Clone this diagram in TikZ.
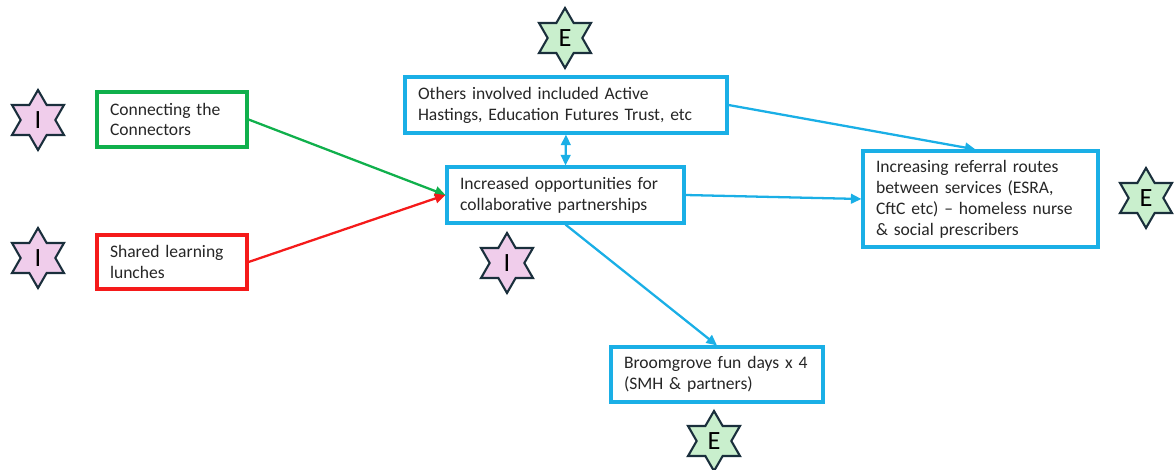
\documentclass[tikz,border=0pt]{standalone}
\usepackage{fontspec}
\setmainfont{Carlito}[WordSpace=0.85]
\usepackage{tikz}
\usetikzlibrary{positioning, arrows.meta, shapes.geometric}
\usepackage{xcolor}

\definecolor{boxblue}{HTML}{1AAFE6}
\definecolor{boxgreen}{HTML}{10B04C}
\definecolor{boxred}{HTML}{F51A1A}
\definecolor{starpink}{HTML}{F0CDEB}
\definecolor{stargreen}{HTML}{C9EFCD}
\definecolor{starline}{HTML}{1A2F3C}

\begin{document}
\begin{tikzpicture}[
                    % one unit = one pixel of the 1174 x 470 sheet, y going down
                    x=0.02cm, y=-0.02cm,
                    every path/.style={line width=1.3pt},
                    % Default style for nodes
                    every node/.style={color=black!85, font=\fontsize{10}{11.9}\selectfont}
                  ]
                  % --- Define styles for boxes, stars and arrows ---
                  \tikzstyle{textbox}=[draw, line width=1.8pt, align=left, inner xsep=0.26cm, inner ysep=0pt, anchor=center]
                  \tikzstyle{starbox}=[star, star points=6, star point ratio=1.73, draw=starline, line width=1.2pt,
                                       minimum size=1.2cm, inner sep=0pt, text=black, font=\fontsize{15}{15}\selectfont]
                  \tikzstyle{link}=[-{Triangle[length=6pt, width=5.5pt]}]

                  \useasboundingbox (0,0) rectangle (1174,470);

                  % --- The text boxes ---
                  \node[textbox, draw=boxgreen, text width=2.48cm, minimum height=1.1cm] (conn) at (172,119.5)
                    {Connecting the\\Connectors};
                  \node[textbox, draw=boxred, text width=2.48cm, minimum height=1.08cm] (lunch) at (172,262)
                    {Shared learning\\lunches};
                  \node[textbox, draw=boxblue, text width=5.92cm, minimum height=1.12cm] (others) at (566,105)
                    {Others involved included Active\\Hastings, Education Futures Trust, etc};
                  \node[textbox, draw=boxblue, text width=4.22cm, minimum height=1.12cm] (collab) at (565.5,195)
                    {Increased opportunities for\\collaborative partnerships};
                  \node[textbox, draw=boxblue, text width=4.18cm, minimum height=1.92cm] (referral) at (980.5,199)
                    {Increasing referral routes\\between services (ESRA,\\CftC etc) -- homeless nurse\\\& social prescribers};
                  \node[textbox, draw=boxblue, text width=3.72cm, minimum height=1.1cm] (fundays) at (717,374.5)
                    {Broomgrove fun days x\nobreakspace4\\(SMH \& partners)};

                  % --- The I and E stars ---
                  \node[starbox, fill=starpink] (starconn) at (38,120) {I};
                  \node[starbox, fill=starpink] (starlunch) at (38,258) {I};
                  \node[starbox, fill=starpink] (starcollab) at (507,263) {I};
                  \node[starbox, fill=stargreen] (starothers) at (565,38) {E};
                  \node[starbox, fill=stargreen] (starreferral) at (1146,198) {E};
                  \node[starbox, fill=stargreen] (starfundays) at (714,441) {E};

                  % --- Connectors ---
                  \draw[link, boxgreen] (conn.east) -- (collab.west);
                  \draw[link, boxred] (lunch.east) -- (collab.west);
                  \draw[boxblue, {Triangle[length=6pt, width=5.5pt]}-{Triangle[length=6pt, width=5.5pt]}] (others.south) -- (collab.north);
                  \draw[link, boxblue] (others.east) -- ([xshift=-0.1cm]referral.north);
                  \draw[link, boxblue] (collab.east) -- (referral.west);
                  \draw[link, boxblue] (collab.south) -- (fundays.north);

                \end{tikzpicture}
\end{document}
